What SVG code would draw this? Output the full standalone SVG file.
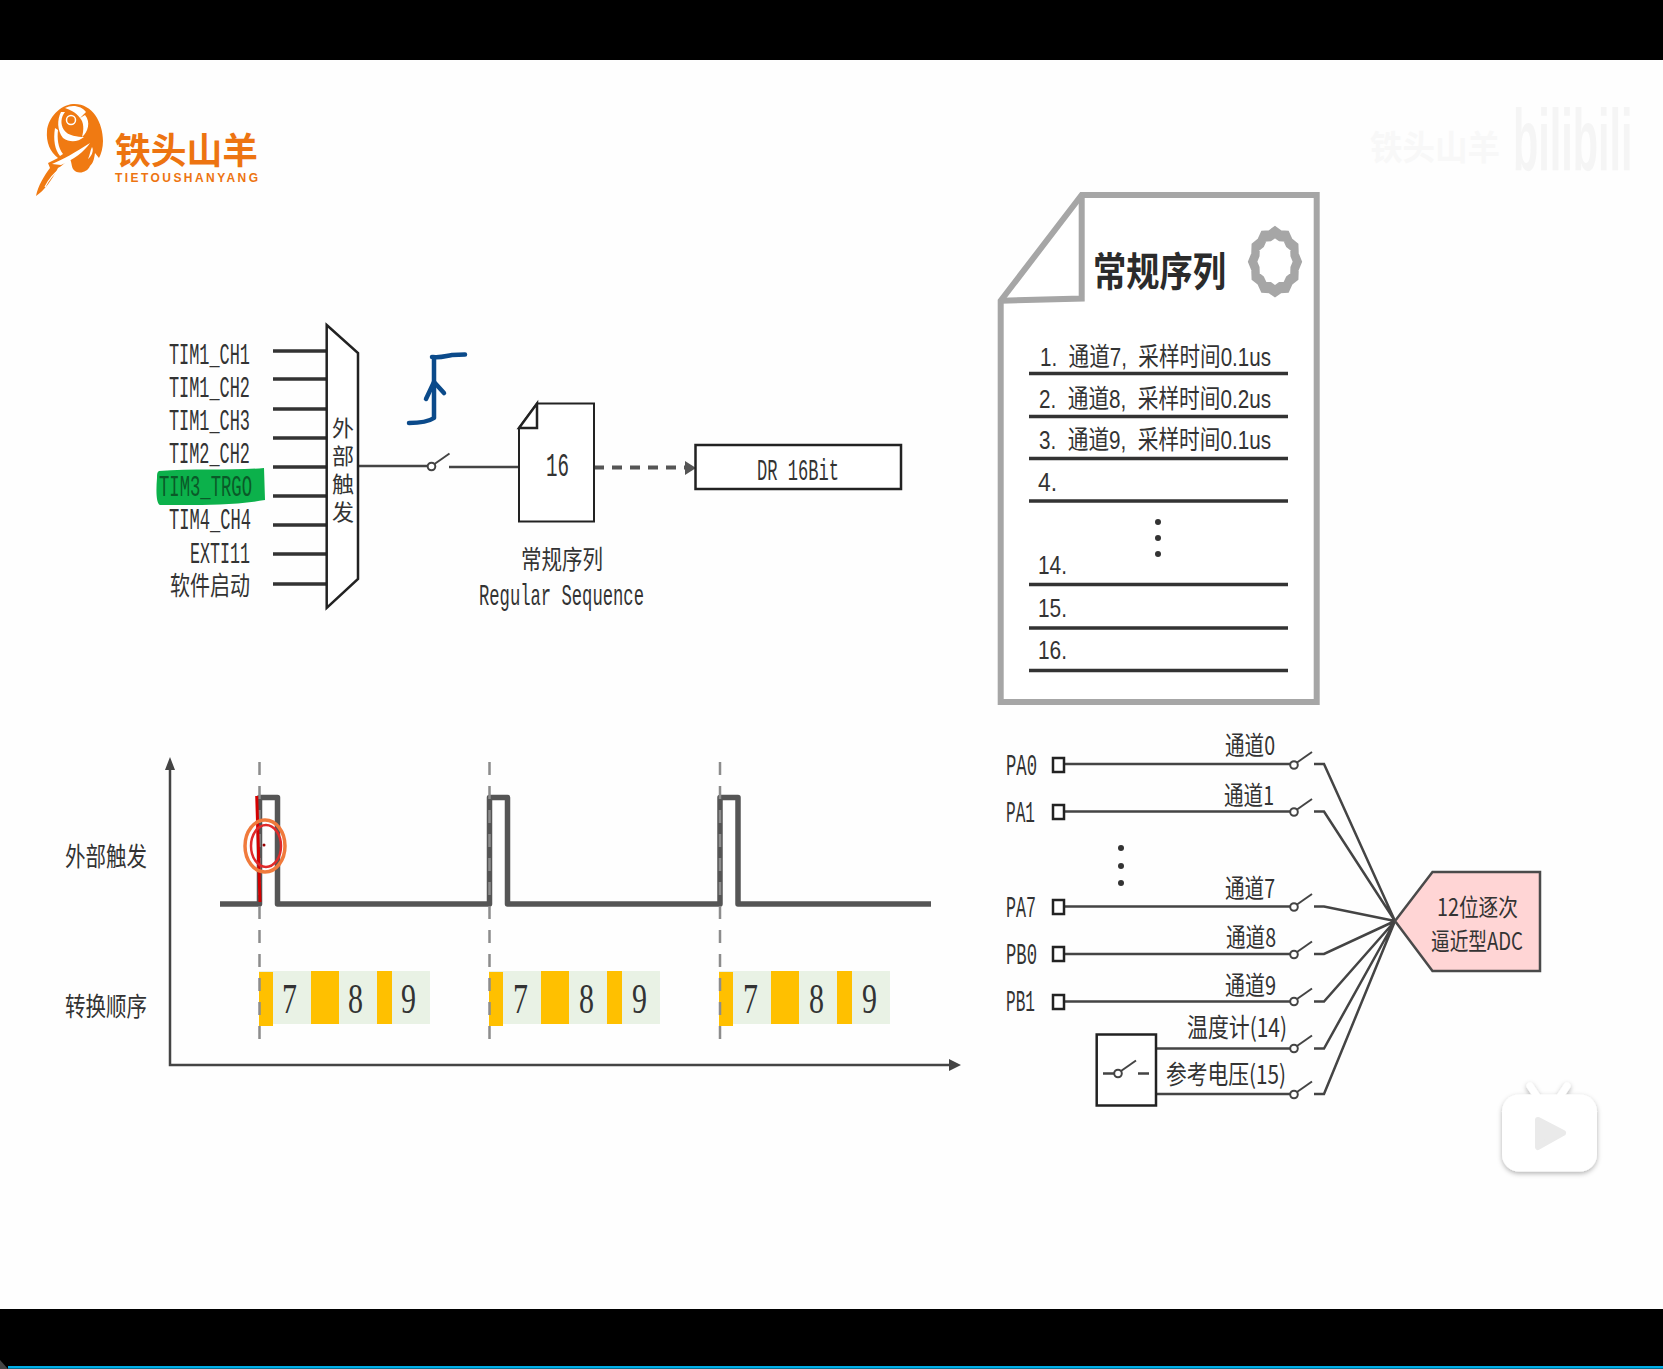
<svg xmlns="http://www.w3.org/2000/svg" width="1663" height="1369" viewBox="0 0 1663 1369">
<defs>
<style>
text{fill:#333;font-family:"Liberation Mono","Noto Sans CJK SC",monospace;font-size:29px}
.a{font-family:"Liberation Sans","Noto Sans CJK SC",sans-serif;font-size:26px}
.c{font-family:"Noto Sans CJK SC",sans-serif;font-size:26px;font-weight:400}
.w{fill:none;stroke:#444;stroke-width:2.5}
.ln{fill:none;stroke:#333;stroke-width:3.5}
.k{fill:#fff;stroke:#222;stroke-width:2.5}
.g{fill:none;stroke:#a6a6a6;stroke-width:6;stroke-linejoin:miter}
.d{fill:none;stroke:#8c8c8c;stroke-width:2.5;stroke-dasharray:13 11}
.sig{fill:none;stroke:#555;stroke-width:5.5;stroke-linejoin:round}
.y{fill:#ffc000}.b{fill:#e9f2e5}
.o{fill:#f07a12}
.num{font-family:"Liberation Serif",serif;font-size:42px}
</style>
<filter id="sh" x="-20%" y="-20%" width="140%" height="150%"><feDropShadow dx="0" dy="2" stdDeviation="2.5" flood-color="#000" flood-opacity="0.3"/></filter>
<g id="sw"><circle cx="0" cy="0" r="3.8" fill="#fff" stroke="#444" stroke-width="2"/><path d="M3 -2.5L18 -13" fill="none" stroke="#444" stroke-width="2"/></g>
</defs>
<rect width="1663" height="1369" fill="#fefefe"/>
<rect id="bar-top" width="1663" height="60" fill="#000"/>
<g id="bar-bottom"><rect y="1309" width="1663" height="60" fill="#000"/><rect x="8" y="1366" width="1655" height="2" fill="#00aee8"/><rect x="8" y="1368" width="1655" height="1" fill="#0a6f90"/><path d="M0 1360L8 1369H0Z" fill="#444"/></g>

<g id="logo">
<path class="o" d="M73 104C92 103 103 122 103 141C103 148 101 154 99 158L95 153C94 160 93 163 90 166C87 173 77 175 73 169C71 165 72 161 69 158C66 162 62 166 58 168C52 180 44 191 36 196C38 186 44 176 50 168L48 163L58 158C50 152 46 142 47 131C48 118 60 105 73 104Z"/>
<path d="M61 112C57 120 57 130 63 138C70 143 78 142 84 137C78 137 68 136 64 130C60 124 61 117 65 112ZM65 108C72 104 82 106 86 112L80 118C76 112 70 110 65 108ZM85 115C91 122 88 132 82 137C84 130 84 122 80 118ZM55 128C53 140 55 150 60 156L63 154C58 148 57 138 58 130Z M52 164C62 160 76 152 90 143C85 151 73 160 61 165Z M92 147C94 150 92 156 88 159C90 155 90 151 92 147Z" fill="#fff"/>
<circle cx="71" cy="120" r="4.500" fill="none" stroke="#fff" stroke-width="1.500"/>
<path d="M45 187C49 179 53 174 60 169" fill="none" stroke="#fff" stroke-width="1.200"/>
<text x="115" y="164" textLength="143" lengthAdjust="spacingAndGlyphs" style="font-family:'Noto Sans CJK SC',sans-serif;font-size:36px;font-weight:700;fill:#ed7411">铁头山羊</text>
<text x="115" y="182" textLength="143" style="font-family:'Liberation Sans',sans-serif;font-size:12px;font-weight:700;fill:#ed7411">TIETOUSHANYANG</text>
</g>

<g id="watermark">
<text x="1370" y="160" textLength="130" lengthAdjust="spacingAndGlyphs" style="font-family:'Noto Sans CJK SC',sans-serif;font-size:34px;font-weight:700;fill:#f8f8f8">铁头山羊</text>
<text transform="translate(1513 170) scale(.47 1)" style="font-family:'Liberation Sans',sans-serif;font-size:88px;font-weight:700;fill:#f5f5f5">bilibili</text>
</g>

<g id="connectors">
<path class="ln" d="M273 351H327M273 379H327M273 409H327M273 438H327M273 467H327M273 496H327M273 525H327M273 554H327M273 584H327"/>
<path class="w" d="M358 466H428M449 467H519"/>
<path fill="none" stroke="#555" stroke-width="4" stroke-dasharray="10 8" d="M594 467.500H686"/>
<path fill="#555" d="M685 461L696 468L685 475Z"/>
</g>
<use href="#sw" x="431.500" y="466.500"/>

<g id="highlight"><path d="M159 471C190 468 230 471 264 468L265 500C230 506 190 505 160 505C156 503 156 490 157 478C157 474 157 472 159 471Z" fill="#0cb14b"/></g>
<g id="trigger-labels">
<text x="169" y="364" textLength="81" lengthAdjust="spacingAndGlyphs">TIM1_CH1</text>
<text x="169" y="397" textLength="81" lengthAdjust="spacingAndGlyphs">TIM1_CH2</text>
<text x="169" y="430" textLength="81" lengthAdjust="spacingAndGlyphs">TIM1_CH3</text>
<text x="169" y="463" textLength="81" lengthAdjust="spacingAndGlyphs">TIM2_CH2</text>
<text x="159" y="496" textLength="93" lengthAdjust="spacingAndGlyphs" style="fill:#0a5a28">TIM3_TRGO</text>
<text x="169" y="529" textLength="82" lengthAdjust="spacingAndGlyphs">TIM4_CH4</text>
<text x="190" y="563" textLength="60" lengthAdjust="spacingAndGlyphs">EXTI11</text>
<text class="c" x="170" y="595" textLength="80" lengthAdjust="spacingAndGlyphs">软件启动</text>
</g>
<g id="mux">
<path d="M326.700 325L358 353V579L326.700 608Z" fill="#fff" stroke="#222" stroke-width="2.500"/>
<text x="343" y="417" style="writing-mode:vertical-rl;font-family:'Noto Sans CJK SC',sans-serif;font-size:22px;letter-spacing:6px">外部触发</text>
</g>
<g id="scribble" fill="none" stroke="#0b4a8a" stroke-width="4.500" stroke-linecap="round" stroke-linejoin="round">
<path d="M409 423C420 423 428 422 434 418V357M432 357C442 358 445 356 452 355L465 354.500"/>
<path d="M426 399L434 382L444 393"/>
</g>
<g id="seq16">
<path class="k" d="M519 428L537 403.500H594V521.500H519Z" style="stroke-width:2"/>
<path class="k" d="M519 428L537 403.500V428Z"/>
<text x="546" y="476" textLength="23" lengthAdjust="spacingAndGlyphs" style="font-size:34px">16</text>
<text class="c" x="521" y="569" textLength="82" lengthAdjust="spacingAndGlyphs">常规序列</text>
<text x="479" y="605" textLength="165" lengthAdjust="spacingAndGlyphs">Regular Sequence</text>
</g>
<g id="dr">
<rect class="k" x="695.500" y="445" width="205.500" height="44"/>
<text x="757" y="480" textLength="82" lengthAdjust="spacingAndGlyphs">DR 16Bit</text>
</g>

<g id="doc">
<path d="M1081.700 195H1316.700V702H1000.700V300.700Z" fill="#fff" stroke="#a6a6a6" stroke-width="6"/>
<path class="g" d="M1081.700 195V298.500L1000.700 300.700"/>
<text x="1093" y="286" textLength="133" lengthAdjust="spacingAndGlyphs" style="font-family:'Noto Sans CJK SC',sans-serif;font-size:40px;font-weight:700;fill:#2b2b2b">常规序列</text>
<path transform="translate(1275 261.700) scale(.28 .37)" fill="none" stroke="#a6a6a6" stroke-width="30" d="M0 -80L18.600 -70L40 -69L50.900 -50.900L69 -40L70 -18.600L80 0L70 18.600L69 40L50.900 50.900L40 69L18.600 70L0 80L-18.600 70L-40 69L-50.900 50.900L-69 40L-70 18.600L-80 0L-70 -18.600L-69 -40L-50.900 -50.900L-40 -69L-18.600 -70Z"/>
<path class="ln" d="M1029 373.500H1288M1029 416.500H1288M1029 458.500H1288M1029 501H1288M1029 584.500H1288M1029 628H1288M1029 670.500H1288"/>
<text class="a" xml:space="preserve" x="1040" y="366" textLength="231" lengthAdjust="spacingAndGlyphs">1.  通道7,  采样时间0.1us</text>
<text class="a" xml:space="preserve" x="1039" y="408" textLength="232" lengthAdjust="spacingAndGlyphs">2.  通道8,  采样时间0.2us</text>
<text class="a" xml:space="preserve" x="1039" y="449" textLength="232" lengthAdjust="spacingAndGlyphs">3.  通道9,  采样时间0.1us</text>
<text class="a" x="1038" y="491" textLength="19" lengthAdjust="spacingAndGlyphs">4.</text>
<text class="a" x="1038" y="574" textLength="29" lengthAdjust="spacingAndGlyphs">14.</text>
<text class="a" x="1038" y="617" textLength="29" lengthAdjust="spacingAndGlyphs">15.</text>
<text class="a" x="1038" y="659" textLength="29" lengthAdjust="spacingAndGlyphs">16.</text>
<circle cx="1158" cy="522" r="3" fill="#333"/><circle cx="1158" cy="538" r="3" fill="#333"/><circle cx="1158" cy="554" r="3" fill="#333"/>
</g>

<g id="timing">
<path d="M170 765V1065H952" fill="none" stroke="#444" stroke-width="2.500"/>
<path d="M170 757L175 770H165ZM961 1065L949 1059V1071Z" fill="#444"/>
<g id="bars">
<rect class="b" x="259" y="971" width="171" height="53"/><rect class="b" x="489" y="971" width="171" height="53"/><rect class="b" x="719" y="971" width="171" height="53"/>
<rect class="y" x="259" y="972" width="14" height="54"/><rect class="y" x="311" y="971" width="28" height="53"/><rect class="y" x="377" y="971" width="15" height="53"/>
<rect class="y" x="489" y="972" width="14" height="54"/><rect class="y" x="541" y="971" width="28" height="53"/><rect class="y" x="607" y="971" width="15" height="53"/>
<rect class="y" x="719" y="972" width="14" height="54"/><rect class="y" x="771" y="971" width="28" height="53"/><rect class="y" x="837" y="971" width="15" height="53"/>
</g>
<text class="num" x="282" y="1013" textLength="15" lengthAdjust="spacingAndGlyphs">7</text><text class="num" x="348" y="1013" textLength="15" lengthAdjust="spacingAndGlyphs">8</text><text class="num" x="401" y="1013" textLength="15" lengthAdjust="spacingAndGlyphs">9</text>
<text class="num" x="513" y="1013" textLength="15" lengthAdjust="spacingAndGlyphs">7</text><text class="num" x="579" y="1013" textLength="15" lengthAdjust="spacingAndGlyphs">8</text><text class="num" x="632" y="1013" textLength="15" lengthAdjust="spacingAndGlyphs">9</text>
<text class="num" x="743" y="1013" textLength="15" lengthAdjust="spacingAndGlyphs">7</text><text class="num" x="809" y="1013" textLength="15" lengthAdjust="spacingAndGlyphs">8</text><text class="num" x="862" y="1013" textLength="15" lengthAdjust="spacingAndGlyphs">9</text>
<path class="sig" d="M220 904H259.500V797.500H277.500V904H489.500V797.500H507.500V904H720V797.500H738V904H931"/>
<path class="d" d="M259.500 762V1042M489.500 762V1042M720 762V1042"/>
<text class="c" x="65" y="866" textLength="82" lengthAdjust="spacingAndGlyphs">外部触发</text>
<text class="c" x="65" y="1016" textLength="82" lengthAdjust="spacingAndGlyphs">转换顺序</text>
<g id="pointer" fill="none">
<path d="M256.700 796L260 902" stroke="#d40000" stroke-width="3"/>
<ellipse cx="265" cy="846" rx="20" ry="26" stroke="#f07a3c" stroke-width="3.500"/>
<ellipse cx="266" cy="846" rx="15" ry="21" stroke="#e02a2a" stroke-width="2.500"/>
<circle cx="264" cy="845" r="1.500" fill="#900"/>
</g>
</g>

<g id="adc-connectors">
<path class="w" d="M1064 764H1290M1064 811.500H1290M1064 906.500H1290M1064 954H1290M1064 1001.500H1290M1156 1048.500H1290M1156 1094H1290"/>
<path class="w" d="M1314 764H1324L1395 921M1314 811.500H1324L1395 921M1314 906.500H1324L1395 921M1314 954H1324L1395 921M1314 1001.500H1324L1395 921M1314 1048.500H1324L1395 921M1314 1094H1324L1395 921"/>
</g>
<use href="#sw" x="1294" y="765"/><use href="#sw" x="1294" y="812"/><use href="#sw" x="1294" y="907"/><use href="#sw" x="1294" y="954.500"/><use href="#sw" x="1294" y="1001.500"/><use href="#sw" x="1294" y="1048.500"/><use href="#sw" x="1294" y="1094.500"/>
<g id="pins">
<rect class="k" x="1053" y="758" width="11" height="14"/><rect class="k" x="1053" y="805" width="11" height="14"/><rect class="k" x="1053" y="900" width="11" height="14"/><rect class="k" x="1053" y="947" width="11" height="14"/><rect class="k" x="1053" y="995" width="11" height="14"/>
<text x="1006" y="775" textLength="31" lengthAdjust="spacingAndGlyphs">PA0</text>
<text x="1006" y="822" textLength="29" lengthAdjust="spacingAndGlyphs">PA1</text>
<text x="1006" y="917" textLength="30" lengthAdjust="spacingAndGlyphs">PA7</text>
<text x="1006" y="964" textLength="31" lengthAdjust="spacingAndGlyphs">PB0</text>
<text x="1006" y="1011" textLength="29" lengthAdjust="spacingAndGlyphs">PB1</text>
<circle cx="1121" cy="848" r="3" fill="#333"/><circle cx="1121" cy="866" r="3" fill="#333"/><circle cx="1121" cy="883" r="3" fill="#333"/>
</g>
<g id="channel-labels">
<text class="c" x="1225" y="755" textLength="50" lengthAdjust="spacingAndGlyphs">通道0</text>
<text class="c" x="1224" y="805" textLength="50" lengthAdjust="spacingAndGlyphs">通道1</text>
<text class="c" x="1225" y="898" textLength="50" lengthAdjust="spacingAndGlyphs">通道7</text>
<text class="c" x="1226" y="947" textLength="50" lengthAdjust="spacingAndGlyphs">通道8</text>
<text class="c" x="1225" y="995" textLength="51" lengthAdjust="spacingAndGlyphs">通道9</text>
<text class="c" x="1187" y="1037" textLength="100" lengthAdjust="spacingAndGlyphs">温度计(14)</text>
<text class="c" x="1166" y="1084" textLength="120" lengthAdjust="spacingAndGlyphs">参考电压(15)</text>
</g>
<g id="ref-switch">
<rect class="k" x="1096.700" y="1034.500" width="59.300" height="71"/>
<path class="w" d="M1103 1073.500H1114M1138 1073.500H1149"/>
<use href="#sw" x="1118" y="1073.500"/>
</g>
<g id="adc">
<path d="M1395 921L1432.500 872H1540V971H1432.500Z" fill="#ffd5d5" stroke="#4a4a4a" stroke-width="2.500"/>
<text class="c" x="1437" y="916" textLength="81" lengthAdjust="spacingAndGlyphs" style="font-size:24px">12位逐次</text>
<text class="c" x="1431" y="950" textLength="92" lengthAdjust="spacingAndGlyphs" style="font-size:24px">逼近型ADC</text>
</g>

<g id="play" filter="url(#sh)">
<path d="M1530 1086L1538 1098M1567 1086L1559 1098" stroke="#fff" stroke-width="7" stroke-linecap="round"/>
<rect x="1502" y="1094.500" width="95" height="77" rx="17" fill="#fff"/>
</g>
<path d="M1538 1120L1563 1133L1538 1147Z" fill="#eaeaea" stroke="#eaeaea" stroke-width="6" stroke-linejoin="round"/>
</svg>
